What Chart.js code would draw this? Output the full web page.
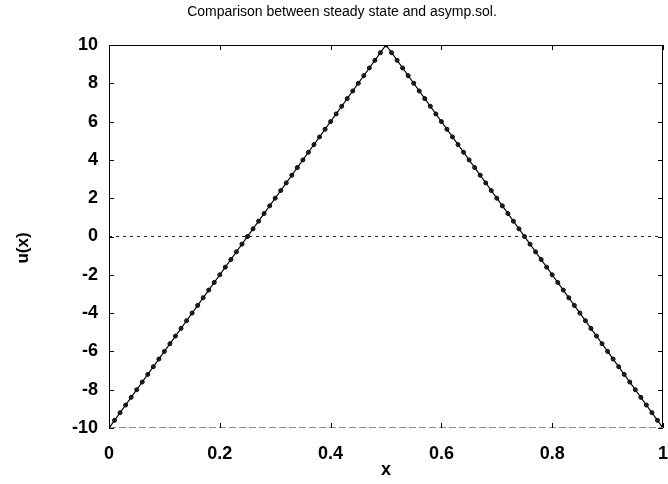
<!DOCTYPE html>
<html>
<head>
<meta charset="utf-8">
<script src="https://cdn.jsdelivr.net/npm/chart.js@4/dist/chart.umd.min.js"></script>
<style>
  html, body { margin: 0; padding: 0; background: #fff; }
  #wrap { width: 668px; height: 484px; }
</style>
</head>
<body>
<div id="wrap"><canvas id="c" width="668" height="484"></canvas></div>
<script>
// Plot text
const titleText = 'Comparison between steady state and asymp.sol.';
const xLabel = 'x';
const yLabel = 'u(x)';

// Tick positions
const xTicks = [0, 0.2, 0.4, 0.6, 0.8, 1];
const yTicks = [-10, -8, -6, -4, -2, 0, 2, 4, 6, 8, 10];

// Steady state: straight segments through the corner points
const steadyX = [0, 0.5, 1];
const steadyU = [-10, 10, -10];

// Asymptotic solution sampled on the grid
const gridX = [
  0, 0.01, 0.02, 0.03, 0.04, 0.05, 0.06, 0.07, 0.08, 0.09,
  0.1, 0.11, 0.12, 0.13, 0.14, 0.15, 0.16, 0.17, 0.18, 0.19,
  0.2, 0.21, 0.22, 0.23, 0.24, 0.25, 0.26, 0.27, 0.28, 0.29,
  0.3, 0.31, 0.32, 0.33, 0.34, 0.35, 0.36, 0.37, 0.38, 0.39,
  0.4, 0.41, 0.42, 0.43, 0.44, 0.45, 0.46, 0.47, 0.48, 0.49,
  0.5, 0.51, 0.52, 0.53, 0.54, 0.55, 0.56, 0.57, 0.58, 0.59,
  0.6, 0.61, 0.62, 0.63, 0.64, 0.65, 0.66, 0.67, 0.68, 0.69,
  0.7, 0.71, 0.72, 0.73, 0.74, 0.75, 0.76, 0.77, 0.78, 0.79,
  0.8, 0.81, 0.82, 0.83, 0.84, 0.85, 0.86, 0.87, 0.88, 0.89,
  0.9, 0.91, 0.92, 0.93, 0.94, 0.95, 0.96, 0.97, 0.98, 0.99,
  1
];
const asympU = [
  -10, -9.6, -9.2, -8.8, -8.4, -8, -7.6, -7.2, -6.8, -6.4,
  -6, -5.6, -5.2, -4.8, -4.4, -4, -3.6, -3.2, -2.8, -2.4,
  -2, -1.6, -1.2, -0.8, -0.4, 0, 0.4, 0.8, 1.2, 1.6,
  2, 2.4, 2.8, 3.2, 3.6, 4, 4.4, 4.8, 5.2, 5.6,
  6, 6.4, 6.8, 7.2, 7.6, 8, 8.4, 8.8, 9.2, 9.6,
  10, 9.6, 9.2, 8.8, 8.4, 8, 7.6, 7.2, 6.8, 6.4,
  6, 5.6, 5.2, 4.8, 4.4, 4, 3.6, 3.2, 2.8, 2.4,
  2, 1.6, 1.2, 0.8, 0.4, 0, -0.4, -0.8, -1.2, -1.6,
  -2, -2.4, -2.8, -3.2, -3.6, -4, -4.4, -4.8, -5.2, -5.6,
  -6, -6.4, -6.8, -7.2, -7.6, -8, -8.4, -8.8, -9.2, -9.6,
  -10
];

// Zero reference line
const zeroX = [0, 1];
const zeroU = [0, 0];

const toPoints = (xs, ys) => xs.map((x, i) => ({ x: x, y: ys[i] }));

const FONT = '"Liberation Sans", Arial, Helvetica, sans-serif';

// Box around the axes, inward tick marks, the title and the vertical axis label
const framePlugin = {
  id: 'frame',
  afterDatasetsDraw(chart) {
    const { ctx, chartArea: a, scales } = chart;
    const tl = 5;
    ctx.save();
    ctx.lineWidth = 1;
    ctx.strokeStyle = '#000';
    ctx.beginPath();
    ctx.moveTo(a.left + 0.5, a.bottom);
    ctx.lineTo(a.left + 0.5, a.top + 0.5);
    ctx.lineTo(a.right - 0.5, a.top + 0.5);
    ctx.lineTo(a.right - 0.5, a.bottom);
    ctx.stroke();
    ctx.strokeStyle = '#8a8a8a';
    ctx.setLineDash([7, 3]);
    ctx.beginPath();
    ctx.moveTo(a.left, a.bottom - 0.5);
    ctx.lineTo(a.right, a.bottom - 0.5);
    ctx.stroke();
    ctx.setLineDash([]);
    ctx.strokeStyle = '#000';
    ctx.beginPath();
    xTicks.forEach(v => {
      const px = Math.round(scales.x.getPixelForValue(v)) + 0.5;
      ctx.moveTo(px, a.bottom); ctx.lineTo(px, a.bottom - tl);
      ctx.moveTo(px, a.top); ctx.lineTo(px, a.top + tl);
    });
    yTicks.forEach(v => {
      const py = Math.round(scales.y.getPixelForValue(v)) + 0.5;
      ctx.moveTo(a.left, py); ctx.lineTo(a.left + tl, py);
      ctx.moveTo(a.right, py); ctx.lineTo(a.right - tl, py);
    });
    ctx.stroke();
    ctx.restore();
  },
  afterDraw(chart) {
    const { ctx } = chart;
    ctx.save();
    ctx.fillStyle = '#000';
    ctx.font = '14px ' + FONT;
    ctx.textAlign = 'center';
    ctx.textBaseline = 'alphabetic';
    ctx.fillText(titleText, 342, 15.5);
    ctx.translate(23, 248);
    ctx.rotate(-Math.PI / 2);
    ctx.font = 'bold 17px ' + FONT;
    ctx.textBaseline = 'middle';
    ctx.fillText(yLabel, 0, 0);
    ctx.restore();
  }
};

new Chart(document.getElementById('c'), {
  type: 'scatter',
  data: {
    datasets: [
      {
        label: 'zero',
        data: toPoints(zeroX, zeroU),
        showLine: true,
        borderColor: '#222',
        borderWidth: 1,
        borderDash: [3, 4],
        pointRadius: 0
      },
      {
        label: 'steady state',
        data: toPoints(steadyX, steadyU),
        showLine: true,
        borderColor: '#000',
        borderWidth: 1.2,
        pointRadius: 0
      },
      {
        label: 'asymp.sol.',
        data: toPoints(gridX, asympU),
        showLine: false,
        pointStyle: 'circle',
        pointRadius: 2,
        pointBackgroundColor: '#444',
        pointBorderColor: '#000',
        pointBorderWidth: 1
      }
    ]
  },
  options: {
    responsive: false,
    animation: false,
    devicePixelRatio: 1,
    layout: { padding: { top: 45, right: 1, left: 0, bottom: 0 } },
    plugins: {
      legend: { display: false },
      title: { display: false },
      tooltip: { enabled: false }
    },
    scales: {
      x: {
        type: 'linear',
        min: 0,
        max: 1,
        afterBuildTicks: s => { s.ticks = xTicks.map(v => ({ value: v })); },
        afterFit: s => { s.height = 56; s.paddingLeft = 0; s.paddingRight = 0; },
        grid: { display: false },
        border: { display: false },
        ticks: {
          color: '#000',
          padding: 7,
          maxRotation: 0,
          autoSkip: false,
          font: { family: FONT, size: 18, weight: 'bold' },
          callback: v => String(v)
        },
        title: {
          display: true,
          text: xLabel,
          color: '#000',
          padding: { top: 3, bottom: 3 },
          font: { family: FONT, size: 18, weight: 'bold' }
        }
      },
      y: {
        type: 'linear',
        min: -10,
        max: 10,
        afterBuildTicks: s => { s.ticks = yTicks.map(v => ({ value: v })); },
        afterFit: s => { s.width = 109; s.paddingTop = 0; s.paddingBottom = 0; },
        grid: { display: false },
        border: { display: false },
        ticks: {
          color: '#000',
          padding: 3,
          autoSkip: false,
          font: { family: FONT, size: 18, weight: 'bold' },
          callback: v => String(v)
        },
        title: { display: false }
      }
    }
  },
  plugins: [framePlugin]
});
</script>
</body>
</html>
